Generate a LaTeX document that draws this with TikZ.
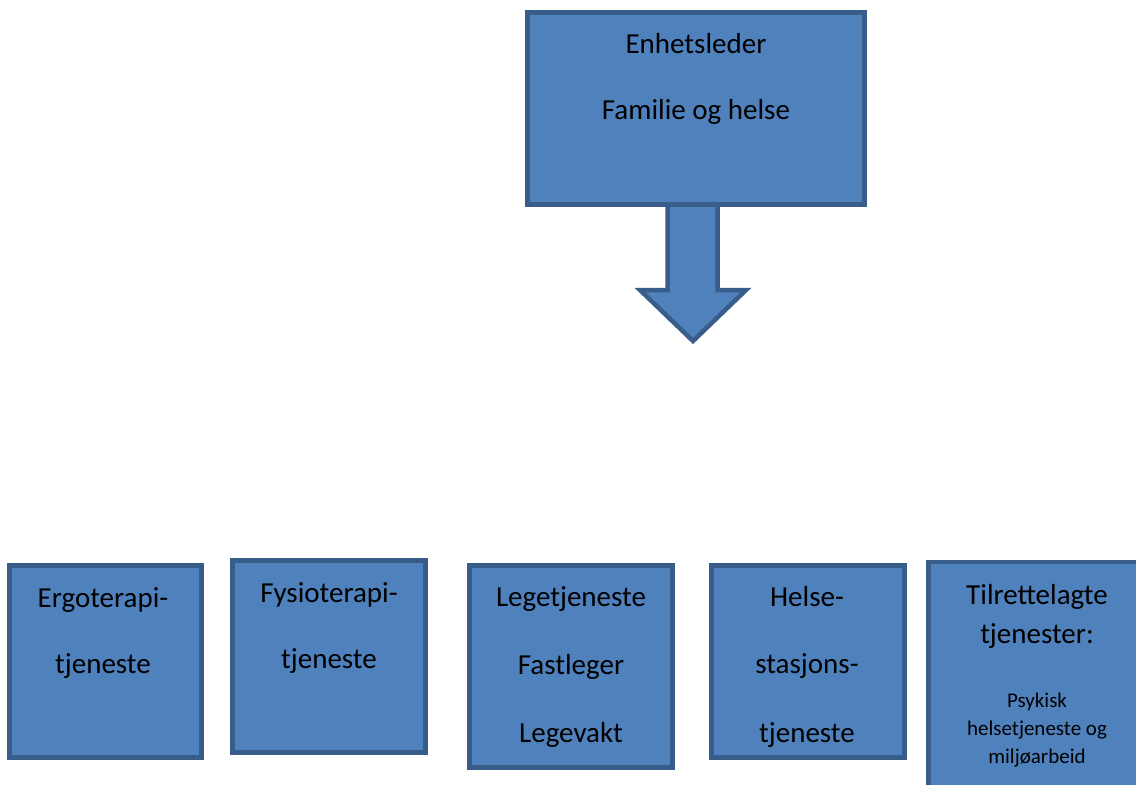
\documentclass[tikz,border=0pt]{standalone}
\usepackage{fontspec}
\setmainfont{Carlito}
\usepackage{tikz}
\usepackage{xcolor}
\definecolor{fhfill}{HTML}{4F81BD}
\definecolor{fhline}{HTML}{385D8A}

\begin{document}
\begin{tikzpicture}[x=1pt,y=-1pt]
            \tikzset{
            fh box/.style={rectangle,draw=fhline,fill=fhfill,line width=4.5pt,inner sep=0},
            fh text/.style={anchor=base,inner sep=0,font=\fontsize{29}{34}\selectfont},
            fh small/.style={anchor=base,inner sep=0,font=\fontsize{21}{25}\selectfont}
            }
            \clip (0,0) rectangle (1136,785);
            \fill[white] (0,0) rectangle (1136,785);

            % block arrow below the top box
            \coordinate (a1) at (667.5,200);
            \coordinate (a2) at (667.5,290);
            \coordinate (a3) at (640,290);
            \coordinate (tip) at (693,341);
            \coordinate (a5) at (746,290);
            \coordinate (a6) at (717.5,290);
            \coordinate (a7) at (717.5,200);
            \draw[fh box,line join=miter] (a1) -- (a2) -- (a3) -- (tip) -- (a5) -- (a6) -- (a7) -- cycle;

            \node[fh box,minimum width=337,minimum height=192] (top) at (696,108.5) {};
            \node[fh box,minimum width=192,minimum height=192] (ergo) at (105.5,661.5) {};
            \node[fh box,minimum width=193,minimum height=192] (fysio) at (329,656.5) {};
            \node[fh box,minimum width=203,minimum height=202] (lege) at (571,666.5) {};
            \node[fh box,minimum width=193,minimum height=192] (helse) at (808,661.5) {};
            \node[fh box,minimum width=217,minimum height=240] (tilrett) at (1037,682) {};

            \node[fh text] (top1) at (696,53) {Enhetsleder};
            \node[fh text] (top2) at (696,119) {Familie og helse};

            \node[fh text] (ergo1) at (103,607) {Ergoterapi-};
            \node[fh text] (ergo2) at (103,673) {tjeneste};

            \node[fh text] (fysio1) at (329,602) {Fysioterapi-};
            \node[fh text] (fysio2) at (329,668) {tjeneste};

            \node[fh text] (lege1) at (571,606) {Legetjeneste};
            \node[fh text] (lege2) at (571,674) {Fastleger};
            \node[fh text] (lege3) at (571,742) {Legevakt};

            \node[fh text] (helse1) at (807,606) {Helse-};
            \node[fh text] (helse2) at (807,673) {stasjons-};
            \node[fh text] (helse3) at (807,742) {tjeneste};

            \node[fh text] (tilrett1) at (1037,604) {Tilrettelagte};
            \node[fh text] (tilrett2) at (1037,643) {tjenester:};
            \node[fh small] (tilrett3) at (1037,707) {Psykisk};
            \node[fh small] (tilrett4) at (1037,735) {helsetjeneste og};
            \node[fh small] (tilrett5) at (1037,763) {miljøarbeid};
        \end{tikzpicture}
\end{document}
